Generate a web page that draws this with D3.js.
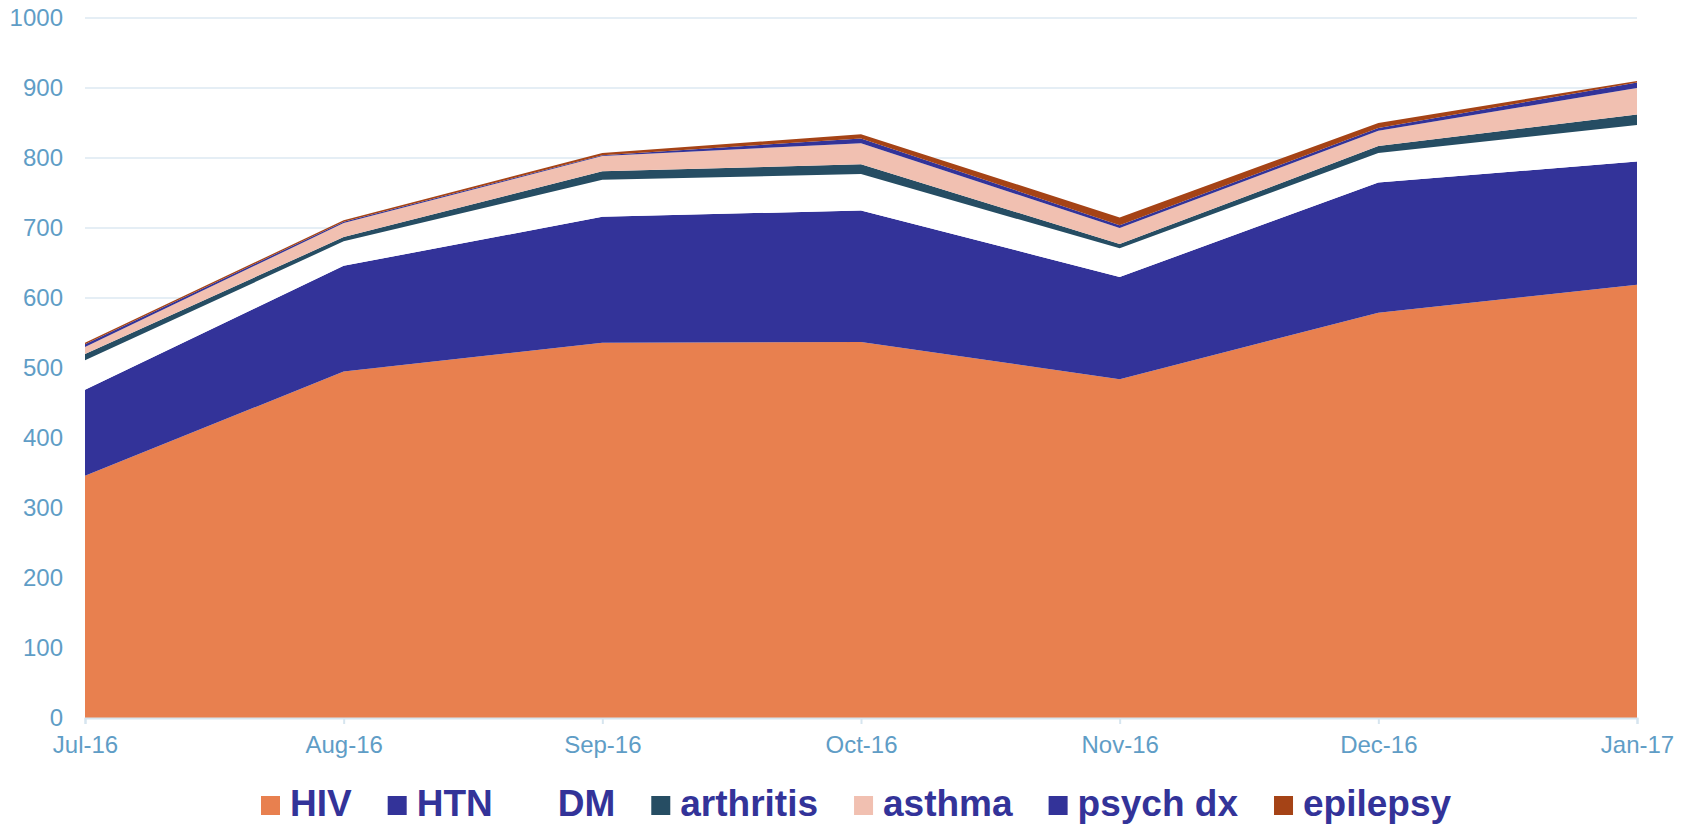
<!DOCTYPE html>
<html>
<head>
<meta charset="utf-8">
<script src="https://cdn.jsdelivr.net/npm/d3@7"></script>
<style>
  body { margin: 0; background: #fff; }
  svg { display: block; font-family: "Liberation Sans", Arial, sans-serif; }
</style>
</head>
<body>
<svg id="chart" width="1695" height="826"></svg>
<script>
// months on the x axis
const months = ["Jul-16", "Aug-16", "Sep-16", "Oct-16", "Nov-16", "Dec-16", "Jan-17"];

// one array per layer, bottom to top
const hiv       = [346, 495, 536, 537, 484, 579, 619];
const htn       = [123, 151, 180, 188, 146, 186, 176];
const dm        = [42, 35, 53, 52, 41, 42, 52];
const arthritis = [9, 6, 12, 14, 6, 10, 15];
const asthma    = [10, 20, 22, 30, 23, 22, 38];
const psychDx   = [4, 2, 1, 7, 4, 4, 8];
const epilepsy  = [2, 2, 3, 6, 11, 7, 2];

const seriesNames = ["HIV", "HTN", "DM", "arthritis", "asthma", "psych dx", "epilepsy"];
const seriesVals = [hiv, htn, dm, arthritis, asthma, psychDx, epilepsy];
const colors = ["#e8804f", "#333399", "#ffffff", "#264d63", "#f1c0b1", "#333399", "#a54316"];

const yTicks = [0, 100, 200, 300, 400, 500, 600, 700, 800, 900, 1000];

const svg = d3.select("#chart");
const margin = { top: 18, left: 85, right: 58, bottom: 108 };
const width = 1695 - margin.left - margin.right,
      height = 826 - margin.top - margin.bottom;

const g = svg.append("g").attr("transform", `translate(${margin.left},${margin.top})`);

const x = d3.scalePoint().domain(months).range([0, width]);
const y = d3.scaleLinear().domain([0, 1000]).range([height, 0]);

// build rows for the stack
const table = months.map((m, i) => {
  const row = { month: m };
  seriesNames.forEach((s, j) => { row[s] = seriesVals[j][i]; });
  return row;
});
const stacked = d3.stack().keys(seriesNames)(table);

// gridlines
g.selectAll(".grid")
  .data(yTicks.filter(t => t > 0))
  .enter().append("line")
  .attr("x1", 0).attr("x2", width)
  .attr("y1", d => y(d)).attr("y2", d => y(d))
  .attr("stroke", "#dde9f2")
  .attr("stroke-width", 1.6);

const area = d3.area()
  .x(d => x(d.data.month))
  .y0(d => y(d[0]))
  .y1(d => y(d[1]));

g.selectAll(".layer")
  .data(stacked)
  .enter().append("path")
  .attr("d", area)
  .attr("fill", (d, i) => colors[i]);

// y axis labels
const yAxis = g.append("g")
  .call(d3.axisLeft(y).tickValues(yTicks).tickFormat(d3.format("d")).tickSize(0).tickPadding(22));
yAxis.select(".domain").remove();
yAxis.selectAll("text")
  .attr("fill", "#5f9dc6")
  .style("font-size", "24px");

// x axis
const xAxis = g.append("g")
  .attr("transform", `translate(0,${height})`)
  .call(d3.axisBottom(x).tickSize(6).tickPadding(12));
xAxis.select(".domain").attr("stroke", "#d6e5ef").attr("stroke-width", 2);
xAxis.selectAll(".tick line").attr("stroke", "#d6e5ef").attr("stroke-width", 2);
xAxis.selectAll("text")
  .attr("fill", "#5f9dc6")
  .style("font-size", "24px");

// legend
const legend = svg.append("g").attr("transform", "translate(261,0)");
let lx = 0;
seriesNames.forEach((s, i) => {
  const item = legend.append("g").attr("transform", `translate(${lx},0)`);
  item.append("rect")
    .attr("x", 0).attr("y", 796)
    .attr("width", 19).attr("height", 19)
    .attr("fill", colors[i]);
  const t = item.append("text")
    .attr("x", 29).attr("y", 816)
    .attr("fill", "#333399")
    .style("font-size", "37px")
    .style("font-weight", "bold")
    .text(s);
  lx += 29 + t.node().getComputedTextLength() + 36;
});
</script>
</body>
</html>
